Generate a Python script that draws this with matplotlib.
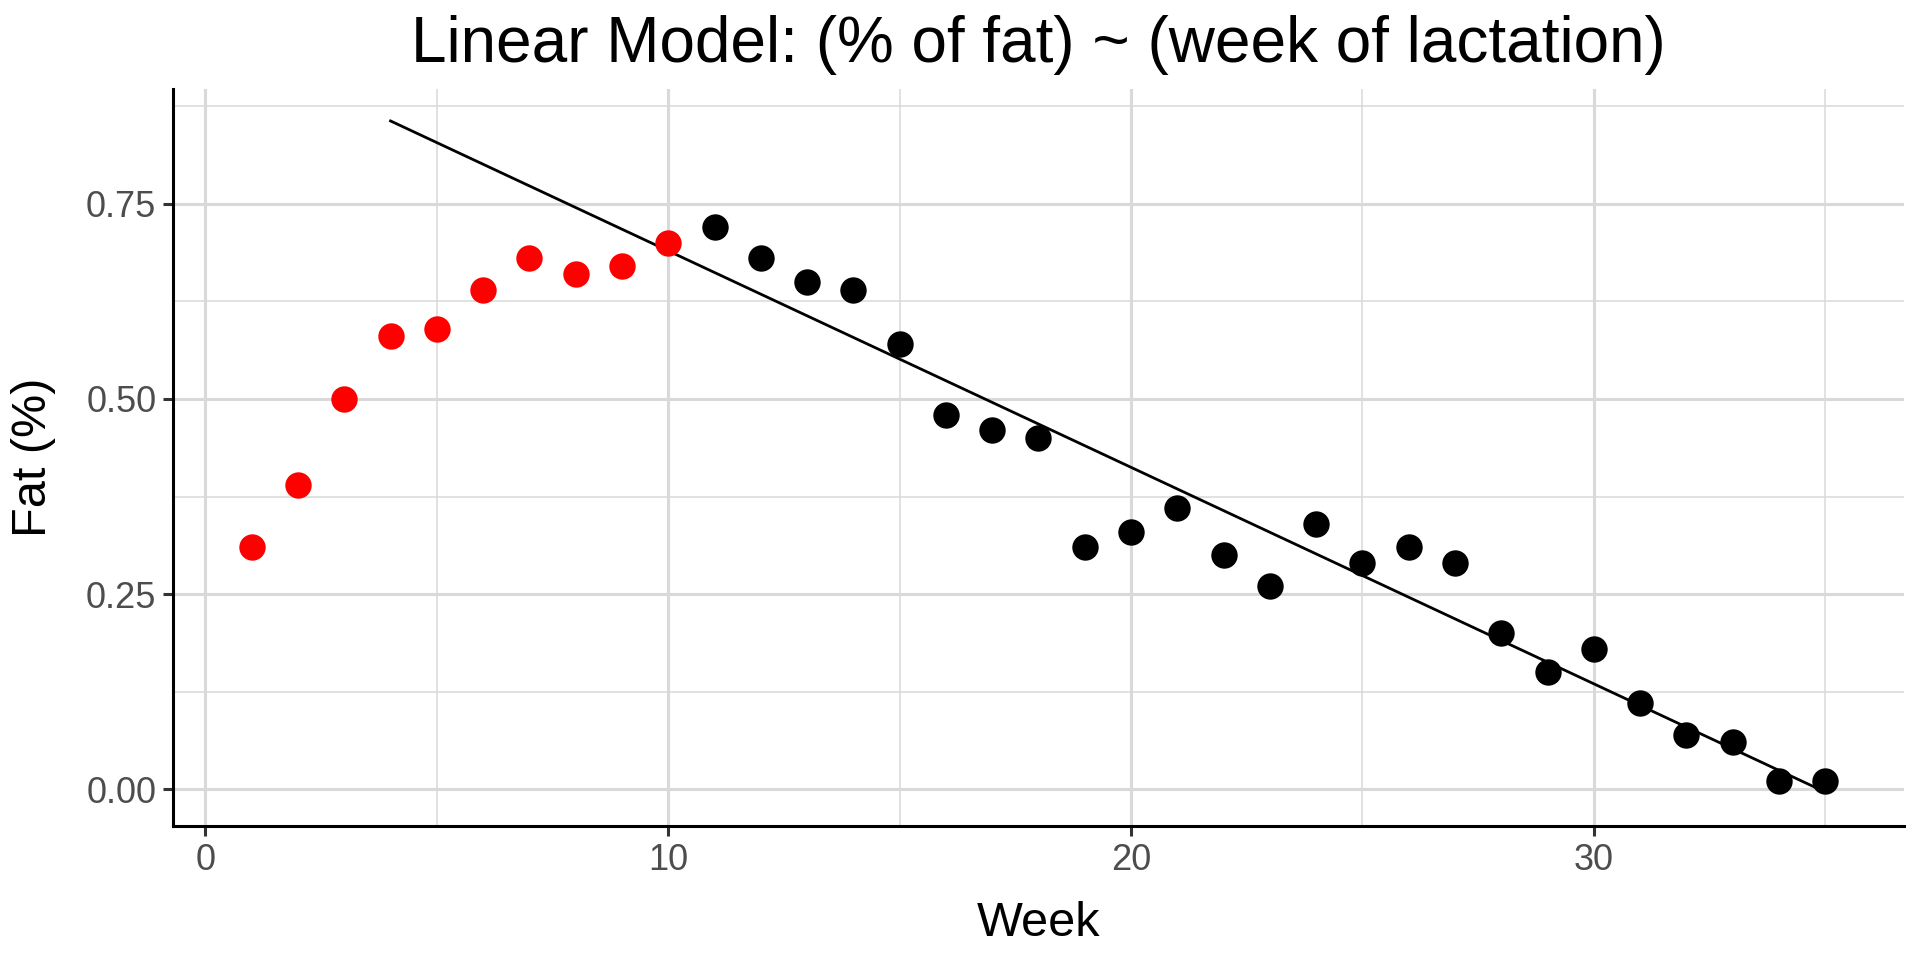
import numpy as np
import matplotlib
matplotlib.use("Agg")
import matplotlib.pyplot as plt

plt.rcParams['font.family'] = ['Liberation Sans', 'DejaVu Sans']

# weeks of lactation and % of fat
week_early = [1, 2, 3, 4, 5, 6, 7, 8, 9, 10]
fat_early = [0.31, 0.39, 0.50, 0.58, 0.59, 0.64, 0.68, 0.66, 0.67, 0.70]

week_late = [11, 12, 13, 14, 15, 16, 17, 18, 19, 20, 21, 22, 23, 24, 25,
             26, 27, 28, 29, 30, 31, 32, 33, 34, 35]
fat_late = [0.72, 0.68, 0.65, 0.64, 0.57, 0.48, 0.46, 0.45, 0.31, 0.33,
            0.36, 0.30, 0.26, 0.34, 0.29, 0.31, 0.29, 0.20, 0.15, 0.18,
            0.11, 0.07, 0.06, 0.01, 0.01]

line_weeks = [4, 35]

# linear model fitted on the later weeks
b, a = np.polyfit(week_late, fat_late, 1)
xl = np.array(line_weeks)
yl = a + b * xl

fig = plt.figure(figsize=(19.2, 9.6), dpi=100)
ax = fig.add_axes([173/1920, 1 - 826/960, (1904-173)/1920, (826-89)/960])

grey = '#d9d9d9'
for v in [0, 10, 20, 30]:
    ax.axvline(v, color=grey, lw=2.2, zorder=0)
for v in [5, 15, 25, 35]:
    ax.axvline(v, color=grey, lw=1.1, zorder=0)
for v in [0, 0.25, 0.5, 0.75]:
    ax.axhline(v, color=grey, lw=2.2, zorder=0)
for v in [0.125, 0.375, 0.625, 0.875]:
    ax.axhline(v, color=grey, lw=1.1, zorder=0)

ax.plot(xl, yl, color='black', lw=2, zorder=2)
ax.plot(week_early, fat_early, 'o', color='red', ms=19, mec='none', zorder=3)
ax.plot(week_late, fat_late, 'o', color='black', ms=19, mec='none', zorder=3)

ax.set_xlim(-0.7, 36.7)
ax.set_ylim(-0.047, 0.897)
ax.set_xticks([0, 10, 20, 30])
ax.set_yticks([0, 0.25, 0.5, 0.75])
ax.set_yticklabels(['0.00', '0.25', '0.50', '0.75'])

for s in ['top', 'right']:
    ax.spines[s].set_visible(False)
for s in ['left', 'bottom']:
    ax.spines[s].set_linewidth(2.2)
    ax.spines[s].set_color('black')

ax.tick_params(axis='both', length=7, width=2.2, color='#333333',
               labelsize=26, labelcolor='#4d4d4d', pad=5)

fig.text((173+1904)/2/1920, 1 - 45/960, 'Linear Model: (% of fat) ~ (week of lactation)',
         ha='center', va='center', fontsize=46)
fig.text((173+1904)/2/1920, 1 - 923/960, 'Week', ha='center', va='center', fontsize=35)
fig.text(33/1920, 1 - (89+826)/2/960, 'Fat (%)', ha='center', va='center',
         rotation=90, fontsize=35)

fig.savefig('out.png', dpi=100)
